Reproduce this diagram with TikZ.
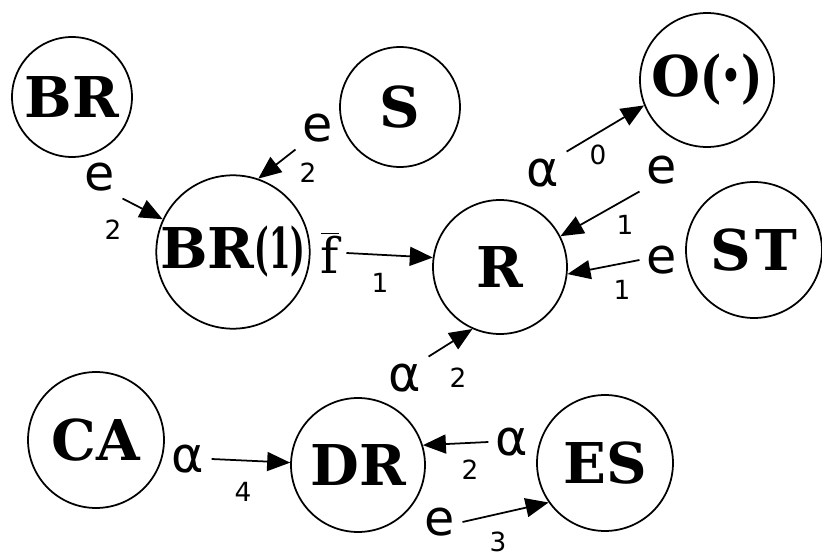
\documentclass[tikz,border=0pt]{standalone}
\usepackage{fontspec}
\setmainfont{DejaVu Serif}
\newfontfamily\lblfont{DejaVu Sans}
\usepackage{tikz}
\usetikzlibrary{arrows.meta}

\begin{document}
\begin{tikzpicture}[x=0.02cm, y=-0.02cm,
  state/.style={circle, draw, line width=1pt, inner sep=0pt, font=\bfseries\fontsize{32}{38}\selectfont},
  lbl/.style={inner sep=4pt, font=\lblfont\fontsize{28}{32}\selectfont},
  sub/.style={inner sep=0pt, font=\lblfont\fontsize{15}{18}\selectfont},
  arr/.style={-{Triangle[length=0.46cm, width=0.38cm]}, line width=1pt}]
\useasboundingbox (0,0) rectangle (822,557);
\foreach \name/\txt/\x/\y/\d in {%
  BR/{BR}/72/97/2.4,%
  S/{S}/400/107/2.4,%
  O/{O\scalebox{0.8}[1]{({\fontsize{22}{22}\selectfont\raisebox{4pt}{\textbullet}})}}/707/80/2.68,%
  BRone/{BR\scalebox{0.55}[1]{(1)}}/233/252/3.0,%
  R/{R}/500/267/2.68,%
  ST/{S\kern3pt T}/754/250/2.72,%
  CA/{CA}/96/440/2.72,%
  DR/{DR}/358/465/2.68,%
  ES/{ES}/605/463/2.72%
}{
  \node[state, minimum size=\d cm] (\name) at (\x,\y) {\txt};
}
\foreach \id/\sym/\lx/\ly/\out/\tgt/\num/\nx/\ny in {%
  a/e/100/177/south east/BRone.155/2/113/230,%
  b/e/318/128/south west/BRone.71/2/308/173,%
  c/{\rmfamily$\overline{\mbox{f}}$}/330/253/east/R.172/1/380/283,%
  d/α/543/173/north east/O.202/0/598/155,%
  e/e/662/170/south west/R.27/1/625/225,%
  f/e/662/260/west/R.354/1/622/290,%
  g/α/405/378/north east/R.246/2/458/378,%
  h/α/188/459/east/DR.178/4/243/492,%
  i/α/512/442/west/DR.17/2/470/470,%
  j/e/440/522/east/ES.215/3/498/542%
}{
  \node[lbl] (l\id) at (\lx,\ly) {\sym};
  \node[sub] (n\id) at (\nx,\ny) {\num};
  \draw[arr] (l\id.\out) -- (\tgt);
}
\end{tikzpicture}
\end{document}
